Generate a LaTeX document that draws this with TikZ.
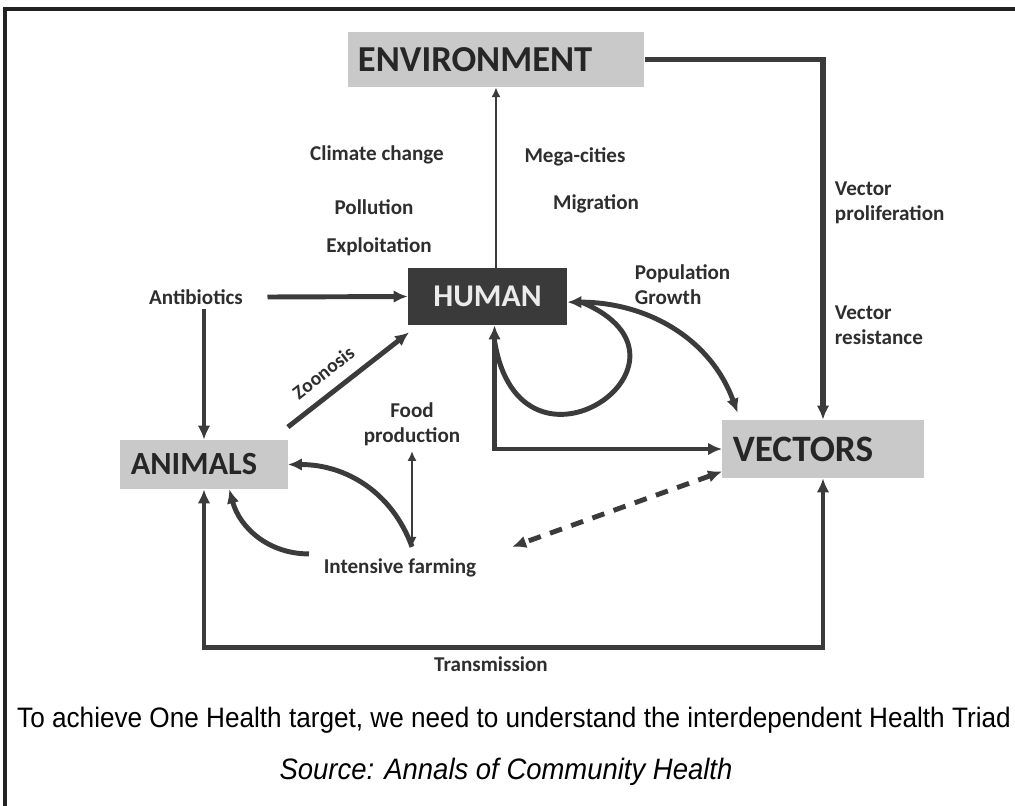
\documentclass[tikz,border=0pt]{standalone}
\usepackage{fontspec}
\setmainfont{Carlito}
\newfontfamily\capfont[FakeStretch=0.93]{Liberation Sans}
\usetikzlibrary{positioning, arrows.meta}
\definecolor{linegray}{HTML}{3B3B3B}
\definecolor{boxgray}{HTML}{C9C9C9}
\definecolor{hubgray}{HTML}{3A3A3A}
\definecolor{boxtext}{HTML}{262626}
\definecolor{notetext}{HTML}{2E2E2E}
\definecolor{framegray}{HTML}{222222}
\tikzset{>={Latex[length=10pt,width=9pt]}}
\tikzset{
    factor/.style = {rectangle, fill=boxgray, text=boxtext, inner xsep=0.26cm, align=left,
                        font=\fontsize{26}{30}\selectfont\bfseries},
    hub/.style = {rectangle, fill=hubgray, text=white!92!black, align=center,
                        font=\fontsize{22.5}{26}\selectfont\bfseries},
    note/.style = {text=notetext, align=center, font=\fontsize{15}{17.8}\selectfont\bfseries},
    link/.style = {draw=linegray, line width=3.5pt},
    thinlink/.style = {draw=linegray, line width=2pt, >={Latex[length=7pt,width=6.5pt]}},
    footline/.style = {text=black, font=\capfont\fontsize{20}{24}\selectfont}
}
\begin{document}
\begin{tikzpicture}[x=0.025cm, y=-0.025cm]
		\useasboundingbox (0,0) rectangle (1015,806);
		\draw [line width=2.2pt, draw=framegray] (5,806) -- (5,9) -- (1015,9);
		\node (env) [factor, text width=6.9cm, minimum height=1.375cm] at (496,59.5) {ENVIRONMENT};
		\node (human) [hub, minimum width=3.975cm, minimum height=1.425cm] at (487.5,296.5) {HUMAN};
		\node (animals) [factor, text width=3.66cm, minimum height=1.225cm, font=\fontsize{23}{27}\selectfont\bfseries] at (204,464.5) {ANIMALS};
		\node (vectors) [factor, text width=4.51cm, minimum height=1.45cm, font=\fontsize{26.5}{30}\selectfont\bfseries] at (823,449) {VECTORS};
		\node (climate) [note] at (377,155) {Climate change};
		\node (pollution) [note] at (374,207) {Pollution};
		\node (exploit) [note] at (379,247) {Exploitation};
		\node (megacities) [note] at (575,157) {Mega-cities};
		\node (migration) [note] at (596,204) {Migration};
		\node (popgrowth) [note, align=left, anchor=west] at (630,285) {Population\\Growth};
		\node (prolif) [note, align=left, anchor=west] at (830,203) {Vector\\proliferation};
		\node (resist) [note, align=left, anchor=west] at (830,325) {Vector\\resistance};
		\node (anti) [note] at (196,297) {Antibiotics};
		\node (food) [note] at (412,424.5) {Food\\production};
		\node (farm) [note] at (400,568) {Intensive farming};
		\node (trans) [note] at (491,664) {Transmission};
		\node (tagline) [footline] at (514,720) {To achieve One Health target, we need to understand the interdependent Health Triad};
		\node (source) [footline, font=\capfont\itshape\fontsize{21}{25}\selectfont] at (506,772) {Source: Annals of Community Health};
		\draw [thinlink, ->] (human.north -| env.south) -- (env.south);
		\draw [link, line width=4pt, ->] (env.east) -| (vectors.north);
		\draw [link, ->] ([xshift=14pt]anti.east) -- (human.west);
		\draw [link, ->] (anti.south -| animals.north) -- (animals.north);
		\draw [link, ->] ([yshift=9pt]animals.north east) -- ([xshift=1pt,yshift=-5pt]human.south west)
			node [note, font=\fontsize{14}{16}\selectfont\bfseries, pos=0.4, above=5pt, sloped] {Zoonosis};
		\draw [link, <->] ([xshift=5pt]human.south) |- (vectors.west);
		\draw [link] ([xshift=10pt,yshift=-4pt]human.east) .. controls (720,360) and (520,500) .. ([xshift=5pt,yshift=-11pt]human.south);
		\draw [link, <->] ([yshift=-4pt]human.east) to [out=0, in=110] ([xshift=11pt,yshift=5pt]vectors.north west);
		\draw [link, <->, dash pattern=on 9pt off 7pt] ([yshift=-16pt]vectors.west) -- ([xshift=22pt,yshift=5pt]farm.north east);
		\draw [thinlink, <->] (food.south) -- ([yshift=5pt]food.south |- farm.north);
		\draw [link, ->] ([yshift=5pt]food.south |- farm.north) to [out=110, in=0] (animals.east);
		\draw [link, ->] ([xshift=-7pt,yshift=10pt]farm.west) to [out=180, in=-75] ([xshift=18pt]animals.south);
		\draw [link, <->] (animals.south) |- ([yshift=3pt]trans.north) -| (vectors.south);
	\end{tikzpicture}
\end{document}
